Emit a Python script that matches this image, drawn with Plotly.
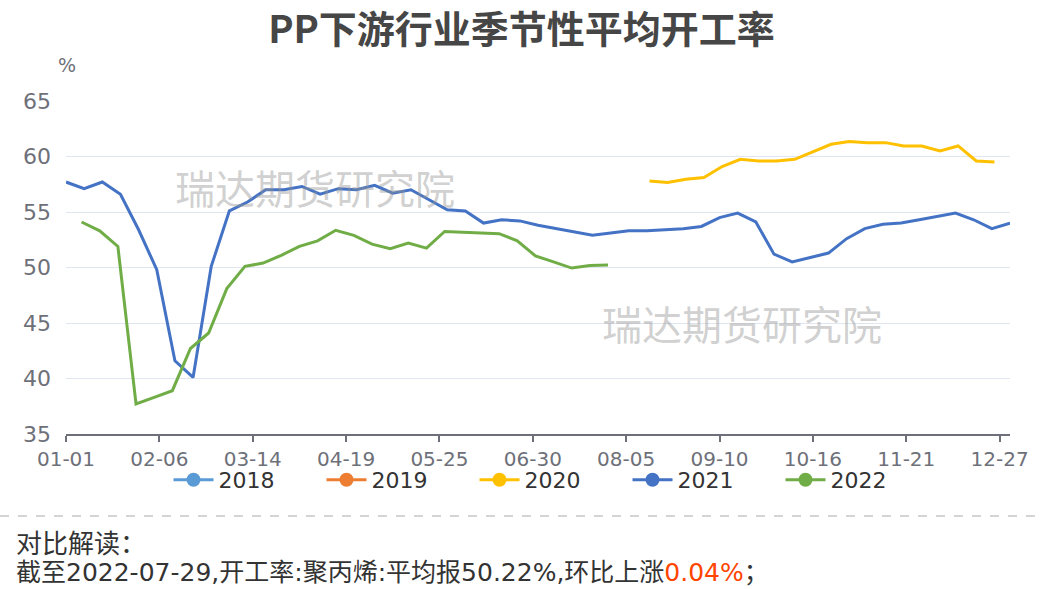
import pandas as pd
import plotly.graph_objects as go

# ---------------- data ----------------
tick_labels = ["01-01", "02-06", "03-14", "04-19", "05-25", "06-30",
               "08-05", "09-10", "10-16", "11-21", "12-27"]
years = ["2018", "2019", "2020", "2021", "2022"]
colors = ["#5B9BD5", "#ED7D31", "#FFC000", "#4472C4", "#70AD47"]

# weekly reporting dates (Fridays) : first date of each series
start_2020 = "2020-08-14"
rate_2020 = [57.8, 57.65, 57.95, 58.1, 59.1, 59.75, 59.6, 59.6, 59.75, 60.4,
             61.1, 61.35, 61.25, 61.25, 60.95, 60.95, 60.5, 60.95, 59.6, 59.5]

start_2021 = "2021-01-01"
rate_2021 = [57.7, 57.1, 57.7, 56.6, 53.4, 49.8, 41.6, 40.1, 50.1, 55.1,
             55.9, 57.0, 57.0, 57.3, 56.6, 57.1, 57.0, 57.4, 56.7, 57.0,
             56.1, 55.2, 55.1, 54.0, 54.3, 54.2, 53.8, 53.5, 53.2, 52.9,
             53.1, 53.3, 53.3, 53.4, 53.5, 53.7, 54.5, 54.9, 54.1, 51.2,
             50.5, 50.9, 51.3, 52.6, 53.5, 53.9, 54.0, 54.3, 54.6, 54.9,
             54.3, 53.5, 54.0]

start_2022 = "2022-01-07"
rate_2022 = [54.1, 53.3, 51.9, 37.7, 38.3, 38.9, 42.7, 44.1, 48.1, 50.1,
             50.4, 51.1, 51.9, 52.4, 53.35, 52.9, 52.1, 51.7, 52.2, 51.75,
             53.25, 53.2, 53.1, 53.05, 52.4, 51.05, 50.5, 49.95, 50.18, 50.22]

series = {"2020": (start_2020, rate_2020),
          "2021": (start_2021, rate_2021),
          "2022": (start_2022, rate_2022)}

title_text = "PP下游行业季节性平均开工率"
watermark = "瑞达期货研究院"
note_head = "对比解读："
note_body = "截至2022-07-29,开工率:聚丙烯:平均报50.22%,环比上涨"
note_change = "0.04%"

# ---------------- helpers ----------------
AXIS_YEAR = "2021"


def to_axis(dates):
    return pd.to_datetime(AXIS_YEAR + "-" + pd.DatetimeIndex(dates).strftime("%m-%d"))


W, H = 1043, 589
L, R, T, B = 66, 33, 101, 155
PW, PH = W - L - R, H - T - B


def px_x(px):
    return (px - L) / PW


def px_y(py):
    return (H - B - py) / PH


FONT = "DejaVu Sans, Noto Sans CJK SC, sans-serif"
CJK = "Noto Sans CJK SC, DejaVu Sans, sans-serif"

fig = go.Figure()

for yr, col in zip(years, colors):
    # legend-only entry (line + circle icon)
    fig.add_trace(go.Scatter(
        x=[None], y=[None], name=yr, legendgroup=yr, mode="lines+markers",
        line=dict(color=col, width=3), marker=dict(color=col, size=14),
        showlegend=True, hoverinfo="skip"))
    if yr in series:
        start, vals = series[yr]
        dates = pd.date_range(start, periods=len(vals), freq="7D")
        fig.add_trace(go.Scatter(
            x=to_axis(dates), y=vals, name=yr, legendgroup=yr, mode="lines",
            line=dict(color=col, width=3), showlegend=False))

tickvals = to_axis(pd.to_datetime([AXIS_YEAR + "-" + t for t in tick_labels]))

fig.update_layout(
    width=W, height=H,
    margin=dict(l=L, r=R, t=T, b=B),
    paper_bgcolor="white", plot_bgcolor="white",
    font=dict(family=FONT, color="#6E7079"),
    title=dict(text="<b>" + title_text + "</b>", x=0.5, xanchor="center",
               y=1 - 30 / H, yanchor="middle", yref="container",
               font=dict(family=CJK, size=38, color="#464646")),
    showlegend=True,
    legend=dict(orientation="h", x=px_x(551), xanchor="center",
                y=px_y(480), yanchor="middle",
                font=dict(size=22, color="#333333", family=FONT),
                itemwidth=40, entrywidth=98, entrywidthmode="pixels",
                bgcolor="rgba(0,0,0,0)"),
    xaxis=dict(type="date",
               range=[pd.Timestamp(AXIS_YEAR + "-01-01"), pd.Timestamp(AXIS_YEAR + "-12-31")],
               tickvals=tickvals, ticktext=tick_labels,
               showgrid=False, zeroline=False,
               showline=True, linecolor="#6E7079", linewidth=1.5,
               ticks="outside", ticklen=6, tickcolor="#6E7079", tickwidth=1.5,
               tickfont=dict(size=20, color="#6E7079")),
    yaxis=dict(range=[35, 65], dtick=5, tick0=35,
               showgrid=True, gridcolor="#E0E6F1", gridwidth=1,
               zeroline=False, showline=False, ticks="",
               ticklabelstandoff=14,
               tickfont=dict(size=22, color="#6E7079")),
    hovermode=False,
)

annotations = [
    dict(text="%", x=px_x(67), y=px_y(65), xref="paper", yref="paper",
         showarrow=False, xanchor="center", yanchor="middle",
         font=dict(size=19, color="#6E7079", family=FONT)),
    dict(text=watermark, x=px_x(315), y=px_y(187), xref="paper", yref="paper",
         showarrow=False, xanchor="center", yanchor="middle",
         font=dict(size=40, color="rgba(150,150,150,0.45)", family=CJK)),
    dict(text=watermark, x=px_x(742), y=px_y(323), xref="paper", yref="paper",
         showarrow=False, xanchor="center", yanchor="middle",
         font=dict(size=40, color="rgba(150,150,150,0.45)", family=CJK)),
    dict(text=note_head, x=px_x(14), y=px_y(541), xref="paper", yref="paper",
         showarrow=False, xanchor="left", yanchor="middle",
         font=dict(size=26, color="#333333", family=CJK)),
    dict(text=note_body + '<span style="color:#FF4500">' + note_change + "</span>；",
         x=px_x(14), y=px_y(572), xref="paper", yref="paper",
         showarrow=False, xanchor="left", yanchor="middle",
         font=dict(size=25, color="#333333", family=FONT)),
]
fig.update_layout(annotations=annotations)

fig.add_shape(type="line", xref="paper", yref="paper",
              x0=px_x(0), x1=px_x(W), y0=px_y(516), y1=px_y(516),
              line=dict(color="#AAAAAA", width=1, dash="dash"))

fig.write_html("out.html", config={"displayModeBar": False},
               post_script="document.body.style.margin='0';document.body.style.overflow='hidden';")
